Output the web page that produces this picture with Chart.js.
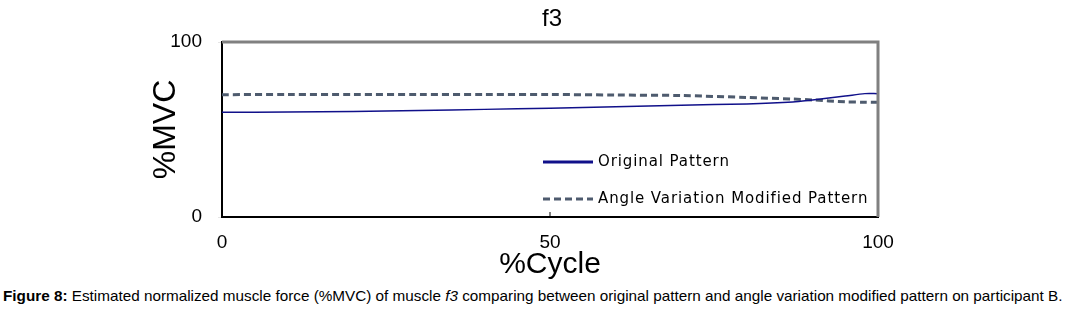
<!DOCTYPE html>
<html>
<head>
<title>f3</title>
<style>
  body { margin: 0; background: #fff; }
  #wrap { position: relative; width: 1070px; height: 280px; }
  #caption {
    position: absolute; left: 3px; top: 287px; white-space: nowrap;
    font-family: "Liberation Sans Narrow", "Arial Narrow", "Liberation Sans", sans-serif;
    font-size: 15px; color: #000; transform-origin: 0 0;
  }
</style>
</head>
<body>
<div id="wrap"><canvas id="f3Chart" width="1070" height="280"></canvas></div>
<div id="caption"><b>Figure 8:</b> Estimated normalized muscle force (%MVC) of muscle <i>f3</i> comparing between original pattern and angle variation modified pattern on participant B.</div>
<script src="https://cdn.jsdelivr.net/npm/chart.js"></script>
<script>
// %Cycle sample points
const cycle = [0, 10, 20, 30, 40, 50, 60, 70, 80, 87, 90, 95, 98, 100];
// %MVC
const original = [59.8, 60.0, 60.3, 60.8, 61.5, 62.2, 63.0, 63.9, 64.6, 65.7, 66.9, 69.1, 70.5, 70.5];
const modified = [69.9, 70.0, 70.0, 70.0, 70.0, 70.0, 69.7, 69.4, 68.3, 67.4, 66.9, 65.8, 65.6, 65.5];
const xTicks = [0, 50, 100];
const yTicks = [0, 100];

// squeeze caption into the figure width like the narrow font of the original
const cap = document.getElementById('caption');
cap.style.transform = 'scaleX(' + (1060 / cap.offsetWidth) + ')';

// gray frame on top/right, title, inside tick + legend inside plot
const framePlugin = {
    id: 'frame',
    afterDatasetsDraw(chart) {
        const ctx = chart.ctx;
        const a = chart.chartArea;
        ctx.save();
        ctx.strokeStyle = '#808080';
        ctx.lineWidth = 3;
        ctx.beginPath();
        ctx.moveTo(a.left, a.top);
        ctx.lineTo(a.right, a.top);
        ctx.lineTo(a.right, a.bottom);
        ctx.stroke();

        const xs = chart.scales.x;
        ctx.strokeStyle = '#000';
        ctx.lineWidth = 1;
        ctx.beginPath();
        ctx.moveTo(xs.getPixelForValue(50), a.bottom);
        ctx.lineTo(xs.getPixelForValue(50), a.bottom - 5);
        ctx.stroke();

        ctx.fillStyle = '#000';
        ctx.font = '24px "Liberation Sans", Arial';
        ctx.textAlign = 'center';
        ctx.textBaseline = 'middle';
        ctx.fillText('f3', (a.left + a.right) / 2 + 2, 19);

        // legend
        ctx.textAlign = 'left';
        ctx.font = '15px "DejaVu Sans"';
        ctx.letterSpacing = '0.9px';
        chart.data.datasets.forEach((ds, i) => {
            const y = a.top + 120 + i * 37;
            const x0 = a.left + 321;
            ctx.strokeStyle = ds.borderColor;
            ctx.lineWidth = 3;
            ctx.setLineDash(ds.borderDash || []);
            ctx.beginPath();
            ctx.moveTo(x0, y);
            ctx.lineTo(x0 + 50, y);
            ctx.stroke();
            ctx.setLineDash([]);
            ctx.fillText(ds.label, x0 + 55, y);
        });
        ctx.restore();
    }
};

const ctx = document.getElementById('f3Chart');
new Chart(ctx, {
    type: 'line',
    data: {
        datasets: [{
            label: 'Original Pattern',
            data: cycle.map((c, i) => ({x: c, y: original[i]})),
            borderColor: '#10108a',
            borderWidth: 1.5,
            pointRadius: 0,
            tension: 0.3
        },
        {
            label: 'Angle Variation Modified Pattern',
            data: cycle.map((c, i) => ({x: c, y: modified[i]})),
            borderColor: '#4e5b6e',
            borderWidth: 3,
            borderDash: [7, 4],
            pointRadius: 0,
            tension: 0.3
        }]
    },
    options: {
        responsive: false,
        animation: false,
        layout: { padding: { left: 147, right: 192, top: 42, bottom: 0 } },
        plugins: {
            legend: { display: false },
            tooltip: { enabled: false },
            title: { display: false }
        },
        scales: {
            x: {
                type: 'linear',
                min: 0, max: 100,
                afterFit: s => { s.height = 63; },
                afterBuildTicks: s => { s.ticks = xTicks.map(v => ({value: v})); },
                grid: { drawOnChartArea: false, drawTicks: false },
                border: { color: '#000', width: 2 },
                ticks: {
                    color: '#000', padding: 14, maxRotation: 0,
                    font: { family: '"Liberation Sans Narrow", "Liberation Sans"', size: 19 }
                },
                title: {
                    display: true, text: '%Cycle', color: '#000',
                    font: { family: '"Liberation Sans", Arial', size: 30 },
                    padding: { top: 0, bottom: -3 }
                }
            },
            y: {
                min: 0, max: 100,
                afterFit: s => { s.width = 75; },
                afterBuildTicks: s => { s.ticks = yTicks.map(v => ({value: v})); },
                grid: { drawOnChartArea: false, tickLength: 4 },
                border: { color: '#000', width: 2 },
                ticks: {
                    color: '#000', padding: 16,
                    font: { family: '"Liberation Sans", Arial', size: 19 }
                },
                title: {
                    display: true, text: '%MVC', color: '#000',
                    font: { family: '"Liberation Sans", Arial', size: 32 },
                    padding: { top: 0, bottom: 0 }
                }
            }
        }
    },
    plugins: [framePlugin]
});
</script>
</body>
</html>
